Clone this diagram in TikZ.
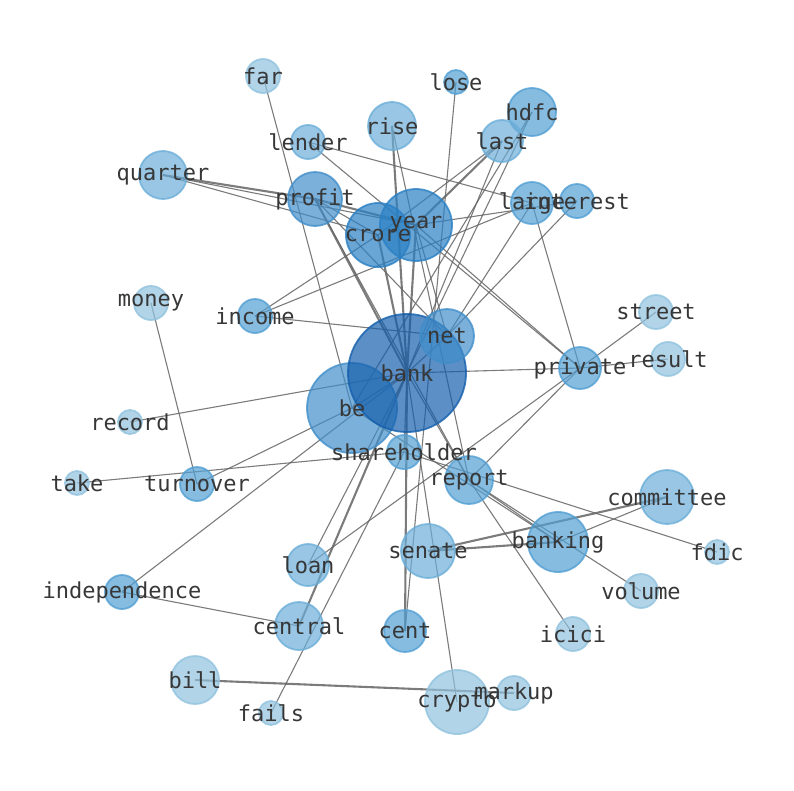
\documentclass[tikz,border=0pt]{standalone}
\usepackage{fontspec}
\setmonofont{DejaVu Sans Mono}
\definecolor{cA}{RGB}{21,95,172}
\definecolor{cB}{RGB}{42,128,196}
\definecolor{cC}{RGB}{65,142,202}
\definecolor{cD}{RGB}{82,159,211}
\definecolor{cE}{RGB}{108,174,216}
\definecolor{cF}{RGB}{145,194,222}
\definecolor{edgec}{RGB}{100,100,100}
\definecolor{txt}{RGB}{55,55,55}
\tikzset{
  wnode/.style={circle,inner sep=0pt,fill opacity=0.7,draw opacity=0.8,line width=1.8pt},
  lbl/.style={text=txt,font=\ttfamily\fontsize{22}{26}\selectfont,inner sep=0pt},
  ed/.style={draw=edgec,line width=1.1pt,opacity=0.85},
  edthick/.style={draw=edgec,line width=2.1pt,opacity=0.85}
}
\begin{document}
\begin{tikzpicture}[x=1pt,y=-1pt]
\useasboundingbox (0,0) rectangle (794,790);
% coordinates of nodes
\foreach \n/\x/\y in {far/263/76,lose/456/82,hdfc/532/112,rise/392/126,last/502/141,lender/308/142,
quarter/163/175,profit/315/199,year/416/225,crore/378/235,large/532/203,interest/577/201,money/151/303,
income/255/316,street/656/312,net/447/336,result/668/359,private/580/368,bank/407/373,be/352/408,
record/130/422,shareholder/404/452,report/469/480,take/77/483,turnover/197/484,committee/667/497,
banking/558/542,senate/428/551,fdic/717/552,loan/308/565,independence/122/592,volume/641/591,
central/299/626,cent/405/631,icici/573/634,bill/195/680,markup/514/693,crypto/457/702,fails/271/713}
  {\coordinate (\n) at (\x,\y);}
% edges
\foreach \a/\b in {far/be,lose/cent,hdfc/bank,hdfc/be,last/crore,last/bank,rise/report,lender/private,
lender/large,quarter/crore,quarter/year,profit/crore,profit/report,profit/net,year/net,year/interest,
year/private,income/crore,income/large,income/net,large/net,large/private,interest/net,net/bank,
bank/private,private/street,private/result,private/report,private/loan,record/bank,be/bank,turnover/be,
turnover/money,take/shareholder,independence/bank,independence/central,loan/bank,bank/crypto,
bank/shareholder,fails/shareholder,shareholder/fdic,report/banking,report/volume,report/icici,
be/banking,banking/committee,bank/report}
  {\draw[ed] (\a) -- (\b);}
\foreach \a/\b in {last/year,rise/bank,quarter/profit,profit/year,profit/bank,crore/bank,year/bank,
central/bank,bank/cent,senate/banking,senate/committee,bill/markup}
  {\draw[edthick] (\a) -- (\b);}
% nodes
\foreach \n/\r/\c in {far/17/cF,lose/12/cD,hdfc/24/cD,rise/24/cE,last/21/cE,lender/17/cE,quarter/24/cE,
profit/27/cC,crore/32/cB,year/36/cB,large/21/cD,interest/17/cD,money/17/cF,income/17/cD,street/17/cF,
result/17/cF,private/21/cD,be/45/cC,bank/59/cA,net/27/cC,record/12/cF,shareholder/17/cD,report/24/cD,
take/12/cF,turnover/17/cD,committee/27/cE,banking/30/cD,senate/27/cE,fdic/12/cF,loan/21/cE,
independence/17/cD,volume/17/cF,central/24/cE,cent/21/cD,icici/17/cF,bill/24/cF,markup/17/cF,
crypto/32/cF,fails/12/cF}
  {\node[wnode,fill=\c,draw=\c,minimum size=2*\r pt] (n\n) at (\n) {};}
% labels
\foreach \n in {far,lose,hdfc,rise,last,lender,quarter,profit,crore,year,large,interest,money,income,
street,result,private,be,bank,net,record,shareholder,report,take,turnover,committee,banking,senate,
fdic,loan,independence,volume,central,cent,icici,bill,markup,crypto,fails}
  {\node[lbl] (t\n) at (\n) {\n};}
\end{tikzpicture}
\end{document}
